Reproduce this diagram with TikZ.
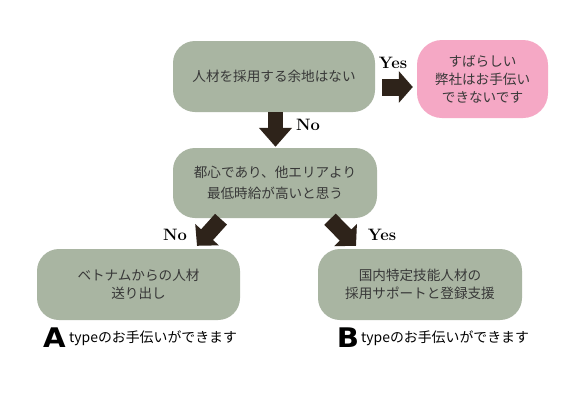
\documentclass[tikz,border=0pt]{standalone}
\usepackage{fontspec}
\newfontfamily\jp{Noto Sans CJK JP}
\newfontfamily\heavy{DejaVu Sans}
\usetikzlibrary{arrows.meta,calc}
\definecolor{boxg}{HTML}{A9B5A2}
\definecolor{boxp}{HTML}{F5A8C5}
\definecolor{arr}{HTML}{2E231A}
\definecolor{txt}{HTML}{383838}
\begin{document}
\begin{tikzpicture}[x=1pt,y=-1pt,
  box/.style={fill=boxg, rounded corners=22pt, text=txt, align=center, inner sep=0pt,
    font=\jp\fontsize{13.6}{18}\selectfont},
  pinkbox/.style={box, fill=boxp, rounded corners=25pt},
  bigarrow/.style={draw=arr, line width=#1},
  lbl/.style={font=\bfseries\fontsize{16.5}{16.5}\selectfont, text=black, inner sep=0pt},
  bigletter/.style={font=\heavy\bfseries\fontsize{27}{27}\selectfont, text=black, inner sep=0pt},
  small/.style={font=\jp\fontsize{13.9}{14}\selectfont, text=black, inner sep=0pt, anchor=west}]
\useasboundingbox (0,0) rectangle (585,400);
\fill[white] (0,0) rectangle (585,400);
% boxes
\node[box, minimum width=202pt, minimum height=71pt] (q1) at (274,76.5) {人材を採用する余地はない};
\node[pinkbox, minimum width=131pt, minimum height=78pt] (res) at (482.5,79) {すばらしい\\弊社はお手伝い\\できないです};
\node[box, minimum width=204pt, minimum height=70pt, font=\jp\fontsize{13.6}{21}\selectfont] (q2) at (275,183) {都心であり、他エリアより\\最低時給が高いと思う};
\node[box, minimum width=203pt, minimum height=71pt] (a) at (138.5,284.5) {ベトナムからの人材\\送り出し};
\node[box, minimum width=204pt, minimum height=71pt] (b) at (420,284.5) {国内特定技能人材の\\採用サポートと登録支援};
% arrows
\coordinate (r1) at ($(q1.east)+(7,10.5)$);
\coordinate (r2) at ($(res.west)+(-4,8)$);
\draw[bigarrow=17pt, -{Triangle[length=14pt,width=31pt]}] (r1) -- (r2);
\coordinate (d1) at ($(q1.south)+(1.5,0)$);
\coordinate (d2) at ($(q2.north)+(0.5,-1)$);
\draw[bigarrow=15pt, -{Triangle[length=19pt,width=32pt]}] (d1) -- (d2);
\coordinate (l1) at ($(q2.south)+(-54,1)$);
\coordinate (l2) at ($(a.north)+(58.5,-3)$);
\draw[bigarrow=16pt, -{Triangle[length=15pt,width=31pt]}] (l1) -- (l2);
\coordinate (m1) at ($(q2.south)+(55,1)$);
\coordinate (m2) at ($(b.north)+(-64,-3)$);
\draw[bigarrow=16pt, -{Triangle[length=15pt,width=31pt]}] (m1) -- (m2);
% labels
\node[lbl] (yes1) at (393,63) {Yes};
\node[lbl] (no1) at (308,125) {No};
\node[lbl] (no2) at (175,235) {No};
\node[lbl] (yes2) at (382,235) {Yes};
% bottom captions
\node[bigletter] (la) at (54.5,338) {\scalebox{1.08}[1]{A}};
\node[small] (ta) at (69,338) {typeのお手伝いができます};
\node[bigletter] (lb) at (348,338) {\scalebox{1.08}[1]{B}};
\node[small] (tb) at (361,338) {typeのお手伝いができます};
\end{tikzpicture}
\end{document}
